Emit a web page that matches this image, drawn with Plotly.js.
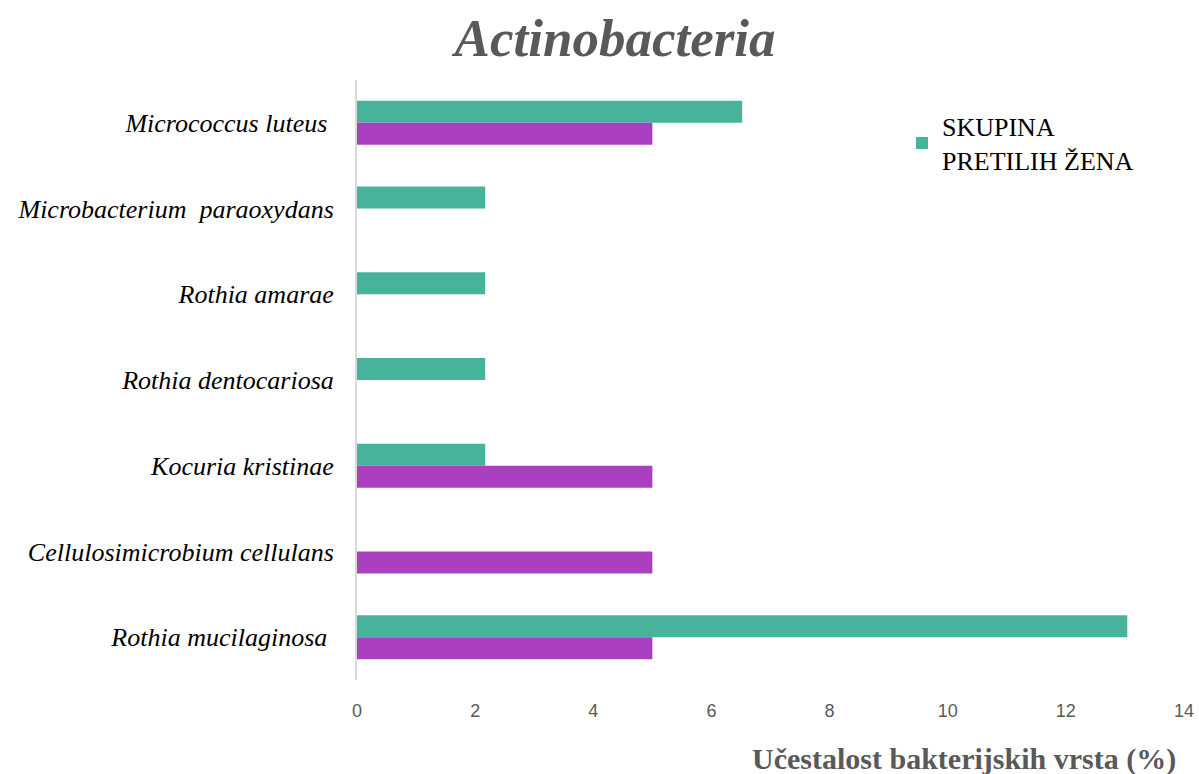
<!DOCTYPE html>
<html><head><meta charset="utf-8">
<script src="https://cdn.plot.ly/plotly-3.0.1.min.js"></script>
<style>html,body{margin:0;padding:0;background:#fff}#chart{width:1199px;height:774px}</style>
</head><body><div id="chart"></div>
<script>
const categories = [
  "Micrococcus luteus\u00a0",
  "Microbacterium\u00a0\u00a0paraoxydans",
  "Rothia amarae",
  "Rothia dentocariosa",
  "Kocuria kristinae",
  "Cellulosimicrobium cellulans",
  "Rothia mucilaginosa\u00a0"
];
const obeseGroup = [6.52, 2.17, 2.17, 2.17, 2.17, 0, 13.04];
const otherGroup = [5, 0, 0, 0, 5, 5, 5];
const obeseName = "SKUPINA<br>PRETILIH ŽENA";

const traces = [
  {type:'bar', orientation:'h', y:categories, x:obeseGroup, name:obeseName,
   marker:{color:'#47B39A', line:{width:0}}, showlegend:true, hoverinfo:'x+y'},
  {type:'bar', orientation:'h', y:categories, x:otherGroup, name:'',
   marker:{color:'#AA40C0', line:{width:0}}, showlegend:false, hoverinfo:'x+y'}
];

const layout = {
  width:1199, height:774,
  margin:{l:357, r:15, t:80, b:94},
  paper_bgcolor:'#fff', plot_bgcolor:'#fff',
  barmode:'group', bargap:0.487, bargroupgap:0,
  title:{text:'<b><i>Actinobacteria</i></b>', x:0.513, xanchor:'center', y:0.952, yanchor:'middle',
    font:{family:'Liberation Serif, Times New Roman, serif', size:53, color:'#595959'}},
  xaxis:{range:[0,14], dtick:2, showgrid:false, zeroline:false, showline:false,
    ticks:'', ticklabelstandoff:18,
    tickfont:{family:'Liberation Sans Narrow, Liberation Sans, Arial, sans-serif', size:18, color:'#595959'}},
  yaxis:{autorange:'reversed', showgrid:false, zeroline:false, showline:true, linecolor:'#D9D9D9', linewidth:2,
    ticks:'', ticklabelstandoff:16,
    tickfont:{family:'Liberation Serif, Times New Roman, serif', size:26, color:'#000', style:'italic'}},
  legend:{x:0.659, y:0.962, xanchor:'left', yanchor:'top', bgcolor:'rgba(0,0,0,0)',
    font:{family:'Liberation Serif, Times New Roman, serif', size:26, color:'#000'}, itemwidth:30},
  annotations:[{text:'<b>Učestalost bakterijskih vrsta (%)</b>', xref:'paper', yref:'paper', x:0.993, y:-0.1,
    xanchor:'right', yanchor:'top', showarrow:false,
    font:{family:'Liberation Serif, Times New Roman, serif', size:30, color:'#595959'}}]
};
Plotly.newPlot('chart', traces, layout, {displayModeBar:false});
</script></body></html>
